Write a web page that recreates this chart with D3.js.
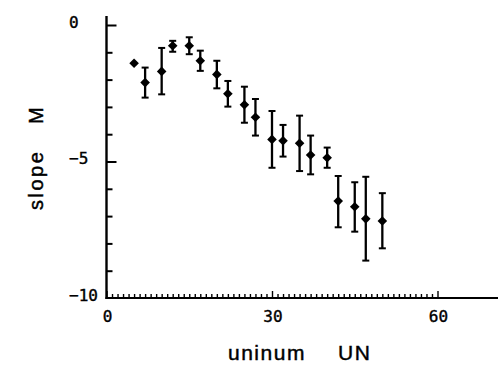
<!DOCTYPE html>
<html>
<head>
<meta charset="utf-8">
<script src="https://cdn.jsdelivr.net/npm/d3@7"></script>
<style>
  html, body { margin: 0; padding: 0; background: #fff; }
  svg { display: block; }
</style>
</head>
<body>
<svg id="chart" width="498" height="365"></svg>
<script>
// ---- data ----
const uninum   = [5, 7, 10, 12, 15, 17, 20, 22, 25, 27, 30, 32, 35, 37, 40, 42, 45, 47, 50];
const slope    = [-1.40, -2.11, -1.70, -0.76, -0.76, -1.31, -1.81, -2.52, -2.92, -3.38, -4.19, -4.24, -4.33, -4.76, -4.86, -6.45, -6.66, -7.10, -7.18];
const errUpper = [null, -1.56, -0.84, -0.58, -0.45, -0.94, -1.31, -2.05, -2.26, -2.71, -3.15, -3.66, -3.32, -4.05, -4.49, -5.53, -5.76, -5.56, -6.16];
const errLower = [null, -2.66, -2.54, -0.98, -1.07, -1.68, -2.32, -2.99, -3.58, -4.05, -5.23, -4.82, -5.35, -5.47, -5.23, -7.41, -7.57, -8.63, -8.18];
const xTickLabels = [0, 30, 60];
const yTickLabels = [0, -5, -10];
const xTitle = ["uninum", "UN"];
const yTitle = ["slope", "M"];

const points = uninum.map((u, i) => ({u, s: slope[i], hi: errUpper[i], lo: errLower[i]}));

const svg = d3.select("#chart");
const x = d3.scaleLinear().domain([0, 60]).range([106.5, 437.5]);
const y = d3.scaleLinear().domain([0, -10]).range([25, 298]);

const ink = "#000";

// ---- y axis (ticks pointing inward) ----
const yAxis = d3.axisRight(y)
  .tickValues(d3.range(0, -10, -1))
  .tickSize(6)
  .tickFormat("");
const gy = svg.append("g").attr("transform", `translate(${x(0)},0)`).call(yAxis);
gy.select(".domain").remove();
gy.selectAll(".tick line").attr("stroke", ink).attr("stroke-width", 2)
  .attr("x2", d => (d % 5 === 0 ? 10 : 6));
svg.append("line")
  .attr("x1", x(0)).attr("x2", x(0))
  .attr("y1", 16).attr("y2", y(-10) + 1)
  .attr("stroke", ink).attr("stroke-width", 2.4);

// ---- x axis (ticks pointing up) ----
const xAxis = d3.axisTop(x)
  .tickValues(d3.range(0, 61, 1))
  .tickSize(4)
  .tickFormat("");
const gx = svg.append("g").attr("transform", `translate(0,${y(-10)})`).call(xAxis);
gx.select(".domain").remove();
gx.selectAll(".tick line").attr("stroke", ink).attr("stroke-width", 1.4)
  .attr("y2", d => (d % 30 === 0 ? -7 : -4));
svg.append("line")
  .attr("x1", x(0) - 1).attr("x2", 498)
  .attr("y1", y(-10)).attr("y2", y(-10))
  .attr("stroke", ink).attr("stroke-width", 2.2);

// ---- tick labels ----
const monoFont = "'DejaVu Sans Mono', 'Liberation Mono', monospace";
svg.append("g").selectAll("text").data(yTickLabels).join("text")
  .attr("x", 69)
  .attr("y", d => y(d) - 3)
  .attr("dominant-baseline", "central")
  .attr("font-family", monoFont)
  .attr("font-size", 16)
  .attr("fill", ink).attr("stroke", ink).attr("stroke-width", 0.4)
  .text(d => d === 0 ? "0" : "\u2212" + Math.abs(d));
svg.append("g").selectAll("text").data(xTickLabels).join("text")
  .attr("x", d => x(d) + 1)
  .attr("y", 322)
  .attr("text-anchor", "middle")
  .attr("font-family", monoFont)
  .attr("font-size", 16)
  .attr("fill", ink).attr("stroke", ink).attr("stroke-width", 0.4)
  .text(d => d);

// ---- axis titles ----
const sansFont = "Arial, 'Liberation Sans', Helvetica, sans-serif";
function title(sel) {
  return sel.attr("font-family", sansFont)
    .attr("fill", ink).attr("stroke", ink).attr("stroke-width", 0.45);
}
title(svg.append("text"))
  .attr("x", 228).attr("y", 360)
  .attr("font-size", 21).attr("letter-spacing", 1.5)
  .text(xTitle[0]);
title(svg.append("text"))
  .attr("x", 338).attr("y", 360)
  .attr("font-size", 21).attr("letter-spacing", 1.5)
  .text(xTitle[1]);
title(svg.append("text"))
  .attr("transform", "translate(43,210) rotate(-90)")
  .attr("font-size", 20).attr("letter-spacing", 2.5)
  .text(yTitle[0]);
title(svg.append("text"))
  .attr("transform", "translate(43,124) rotate(-90)")
  .attr("font-size", 20)
  .text(yTitle[1]);

// ---- error bars ----
const withErr = points.filter(p => p.hi !== null);
const eb = svg.append("g").attr("stroke", ink);
eb.selectAll("line.stem").data(withErr).join("line")
  .attr("class", "stem")
  .attr("x1", d => x(d.u)).attr("x2", d => x(d.u))
  .attr("y1", d => y(d.hi)).attr("y2", d => y(d.lo))
  .attr("stroke-width", 2.3);
eb.selectAll("line.capTop").data(withErr).join("line")
  .attr("class", "capTop")
  .attr("x1", d => x(d.u) - 3.5).attr("x2", d => x(d.u) + 3.5)
  .attr("y1", d => y(d.hi)).attr("y2", d => y(d.hi))
  .attr("stroke-width", 2);
eb.selectAll("line.capBot").data(withErr).join("line")
  .attr("class", "capBot")
  .attr("x1", d => x(d.u) - 3.5).attr("x2", d => x(d.u) + 3.5)
  .attr("y1", d => y(d.lo)).attr("y2", d => y(d.lo))
  .attr("stroke-width", 2);

// ---- markers (rotated squares) ----
const marker = d3.symbol().type(d3.symbolSquare).size(46);
svg.append("g").selectAll("path").data(points).join("path")
  .attr("transform", d => `translate(${x(d.u)},${y(d.s)}) rotate(45)`)
  .attr("d", marker)
  .attr("fill", ink);
</script>
</body>
</html>
